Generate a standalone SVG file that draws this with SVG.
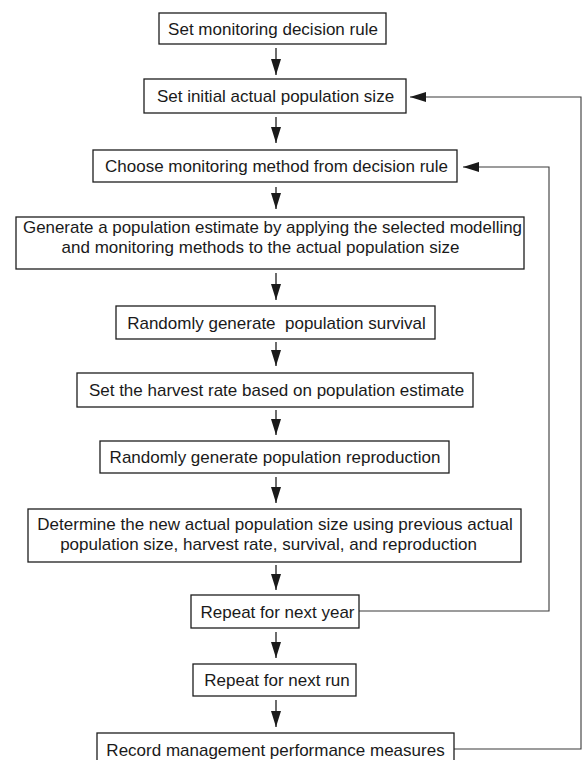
<svg xmlns="http://www.w3.org/2000/svg" width="583" height="760" viewBox="0 0 583 760">
<style>
  .box { fill: #ffffff; stroke: #1e1e1e; stroke-width: 1.3; }
  .t { font-family: "Liberation Sans", Arial, Helvetica, sans-serif; font-size: 17px; fill: #1a1a1a; text-anchor: middle; }
  .arr { stroke: #1e1e1e; stroke-width: 1.3; fill: none; marker-end: url(#ah); }
  .fb { stroke: #3a3a3a; stroke-width: 1.1; fill: none; marker-end: url(#ah); }
</style>
<defs>
  <marker id="ah" markerUnits="userSpaceOnUse" markerWidth="16" markerHeight="11" refX="16" refY="5.5" orient="auto">
    <path d="M0,0.5 L16,5.5 L0,10.5 z" fill="#1a1a1a"/>
  </marker>
</defs>
<rect width="583" height="760" fill="#ffffff"/>

<g id="connectors">
  <line class="arr" x1="276" y1="48" x2="276" y2="75"/>
  <line class="arr" x1="276" y1="117" x2="276" y2="143"/>
  <line class="arr" x1="276" y1="187" x2="276" y2="209"/>
  <line class="arr" x1="276" y1="273" x2="276" y2="300"/>
  <line class="arr" x1="276" y1="342" x2="276" y2="366"/>
  <line class="arr" x1="276" y1="410" x2="276" y2="435"/>
  <line class="arr" x1="276" y1="477" x2="276" y2="503"/>
  <line class="arr" x1="276" y1="565" x2="276" y2="590"/>
  <line class="arr" x1="276" y1="632" x2="276" y2="658"/>
  <line class="arr" x1="276" y1="700" x2="276" y2="727"/>
  <path class="fb" d="M359,611 H549 V167 H463"/>
  <path class="fb" d="M454,749 H581 V97 H410"/>
</g>

<g id="n1">
  <rect class="box" x="159" y="13" width="227" height="31"/>
  <text class="t" x="273" y="34.5">Set monitoring decision rule</text>
</g>
<g id="n2">
  <rect class="box" x="144" y="79" width="262" height="34"/>
  <text class="t" x="275.5" y="102">Set initial actual population size</text>
</g>
<g id="n3">
  <rect class="box" x="93" y="150" width="364" height="32"/>
  <text class="t" x="276.5" y="172">Choose monitoring method from decision rule</text>
</g>
<g id="n4">
  <rect class="box" x="16" y="217" width="508" height="52"/>
  <text class="t" x="272.5" y="233" textLength="499" lengthAdjust="spacingAndGlyphs">Generate a population estimate by applying the selected modelling</text>
  <text class="t" x="260.5" y="253">and monitoring methods to the actual population size</text>
</g>
<g id="n5">
  <rect class="box" x="116" y="306" width="319" height="33"/>
  <text class="t" x="276.5" y="328.5" xml:space="preserve" style="white-space:pre">Randomly generate  population survival</text>
</g>
<g id="n6">
  <rect class="box" x="77" y="373" width="396" height="34"/>
  <text class="t" x="276.5" y="396">Set the harvest rate based on population estimate</text>
</g>
<g id="n7">
  <rect class="box" x="100" y="441" width="349" height="32"/>
  <text class="t" x="275" y="463">Randomly generate population reproduction</text>
</g>
<g id="n8">
  <rect class="box" x="28" y="509" width="493" height="53"/>
  <text class="t" x="275" y="530">Determine the new actual population size using previous actual</text>
  <text class="t" x="268.5" y="550">population size, harvest rate, survival, and reproduction</text>
</g>
<g id="n9">
  <rect class="box" x="191" y="595" width="168" height="33"/>
  <text class="t" x="277.5" y="617.5">Repeat for next year</text>
</g>
<g id="n10">
  <rect class="box" x="193" y="664" width="163" height="32"/>
  <text class="t" x="277" y="686">Repeat for next run</text>
</g>
<g id="n11">
  <rect class="box" x="97" y="733" width="357" height="33"/>
  <text class="t" x="275.5" y="755.5">Record management performance measures</text>
</g>
</svg>
